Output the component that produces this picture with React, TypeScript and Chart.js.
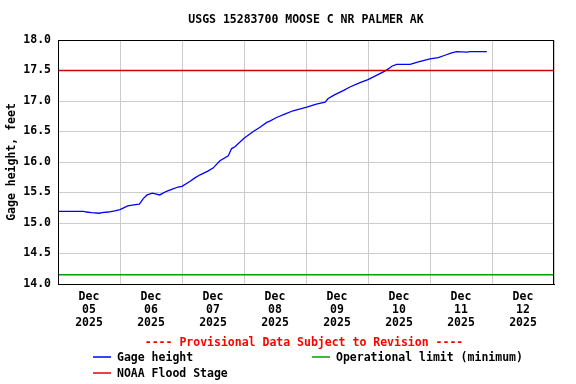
import React, { useEffect, useRef } from "react";
import { Chart, registerables } from "chart.js";

Chart.register(...registerables);

const TITLE = "USGS 15283700 MOOSE C NR PALMER AK";
const PROVISIONAL = "---- Provisional Data Subject to Revision ----";
const Y_TITLE = "Gage height, feet";

// hours since Dec 05 2025 00:00
const gageHours = [
  0, 10, 11, 13, 16, 17, 19.4, 22, 24, 27, 30, 31.5, 33, 34.5, 36.5, 39.4, 42, 44, 46.5, 48,
  51, 53, 55, 58, 60, 62.7, 65.9, 67.2, 68.5, 72, 75.6, 78.2, 80.8, 82, 84.6, 88, 91, 96.3,
  100, 103.4, 104.6, 107, 110.4, 113, 116.9, 120, 124.6, 126.5, 128, 129.2, 131.1, 136.3,
  139.5, 144, 147.2, 149.8, 152.4, 154.3, 158.2, 159.5, 166,
];
const gageFeet = [
  15.19, 15.19, 15.18, 15.17, 15.16, 15.17, 15.18, 15.2, 15.22, 15.28, 15.3, 15.31, 15.4, 15.46,
  15.49, 15.46, 15.52, 15.55, 15.59, 15.6, 15.68, 15.74, 15.79, 15.85, 15.9, 16.02, 16.1, 16.22,
  16.25, 16.39, 16.5, 16.57, 16.65, 16.67, 16.73, 16.79, 16.84, 16.9, 16.95, 16.98, 17.04, 17.1,
  17.17, 17.23, 17.3, 17.35, 17.45, 17.49, 17.53, 17.57, 17.6, 17.6, 17.64, 17.69, 17.71, 17.75,
  17.79, 17.81, 17.8, 17.81, 17.81,
];
const floodStage = 17.5;
const operationalLimit = 14.15;

const dayLabels = ["05", "06", "07", "08", "09", "10", "11", "12"];
const monthLabel = "Dec";
const yearLabel = "2025";
const yTicks = [14, 14.5, 15, 15.5, 16, 16.5, 17, 17.5, 18];

const X_MAX = dayLabels.length * 24;
const FONT = '"DejaVu Sans Mono", monospace';

const overlay = {
  id: "overlay",
  afterDraw(chart: any) {
    const { ctx, chartArea: a } = chart;
    ctx.save();
    ctx.strokeStyle = "#000";
    ctx.lineWidth = 1;
    ctx.strokeRect(Math.round(a.left) + 0.5, Math.round(a.top) + 0.5, Math.round(a.right - a.left) - 1, Math.round(a.bottom - a.top));
    ctx.font = `bold 11.5px ${FONT}`;
    ctx.textBaseline = "middle";
    ctx.textAlign = "center";
    ctx.fillStyle = "#000";
    ctx.fillText(TITLE, (a.left + a.right) / 2, 20);
    ctx.fillStyle = "#ff0000";
    ctx.fillText(PROVISIONAL, 304, 343);
    const items = [
      { label: "Gage height", color: "#0000ff", x: 93, y: 357 },
      { label: "Operational limit (minimum)", color: "#00a000", x: 312, y: 357 },
      { label: "NOAA Flood Stage", color: "#ee0000", x: 93, y: 373 },
    ];
    ctx.textAlign = "left";
    for (const it of items) {
      ctx.strokeStyle = it.color;
      ctx.lineWidth = 1.5;
      ctx.beginPath();
      ctx.moveTo(it.x, it.y);
      ctx.lineTo(it.x + 18, it.y);
      ctx.stroke();
      ctx.fillStyle = "#000";
      ctx.fillText(it.label, it.x + 24, it.y + 1);
    }
    ctx.restore();
  },
};

export default function App() {
  const ref = useRef<HTMLCanvasElement>(null);
  useEffect(() => {
    document.body.style.margin = "0";
    const gage = gageHours.map((h, i) => ({ x: h, y: gageFeet[i] }));
    const chart = new Chart(ref.current!, {
      type: "line",
      data: {
        datasets: [
          {
            label: "Operational limit (minimum)",
            data: [{ x: 0, y: operationalLimit }, { x: X_MAX, y: operationalLimit }],
            borderColor: "#00a000",
            borderWidth: 1.5,
            pointRadius: 0,
          },
          {
            label: "NOAA Flood Stage",
            data: [{ x: 0, y: floodStage }, { x: X_MAX, y: floodStage }],
            borderColor: "#d00000",
            borderWidth: 1.5,
            pointRadius: 0,
          },
          {
            label: "Gage height",
            data: gage,
            borderColor: "#0000ff",
            borderWidth: 1.3,
            pointRadius: 0,
            tension: 0,
          },
        ],
      },
      options: {
        responsive: false,
        animation: false,
        layout: { padding: { left: 0, right: 22, top: 40, bottom: 0 } },
        plugins: { legend: { display: false }, title: { display: false }, tooltip: { enabled: false } },
        scales: {
          x: {
            type: "linear",
            min: 0,
            max: X_MAX,
            afterBuildTicks: (s: any) => {
              const t = [];
              for (let v = 0; v <= X_MAX; v += 12) t.push({ value: v });
              s.ticks = t;
            },
            afterFit: (s: any) => {
              s.height = 100;
            },
            grid: {
              color: (c: any) => (c.tick && c.tick.value % 24 === 0 ? "#cccccc" : "rgba(0,0,0,0)"),
              drawTicks: false,
              lineWidth: 1,
            },
            border: { display: true, color: "#000" },
            ticks: {
              autoSkip: false,
              maxRotation: 0,
              minRotation: 0,
              padding: 7,
              color: "#000",
              font: { family: FONT, size: 11.5, weight: "bold", lineHeight: 1.13 },
              callback: (v: any) => {
                const n = Number(v);
                if (n % 24 !== 12) return "";
                const d = Math.floor(n / 24);
                return [monthLabel, dayLabels[d], yearLabel];
              },
            },
          },
          y: {
            min: 14,
            max: 18,
            afterBuildTicks: (s: any) => {
              s.ticks = yTicks.map((v) => ({ value: v }));
            },
            afterFit: (s: any) => {
              s.width = 58;
            },
            grid: { color: "#cccccc", drawTicks: false, lineWidth: 1 },
            border: { display: true, color: "#000" },
            ticks: {
              padding: 7,
              color: "#000",
              font: { family: FONT, size: 11.5, weight: "bold" },
              callback: (v: any) => Number(v).toFixed(1),
            },
            title: {
              display: true,
              text: Y_TITLE,
              color: "#000",
              font: { family: FONT, size: 11.5, weight: "bold" },
              padding: { top: 5, bottom: 0 },
            },
          },
        },
      } as any,
      plugins: [overlay],
    });
    return () => chart.destroy();
  }, []);
  return (
    <div style={{ width: 576, height: 384 }}>
      <canvas ref={ref} width={576} height={384} />
    </div>
  );
}
